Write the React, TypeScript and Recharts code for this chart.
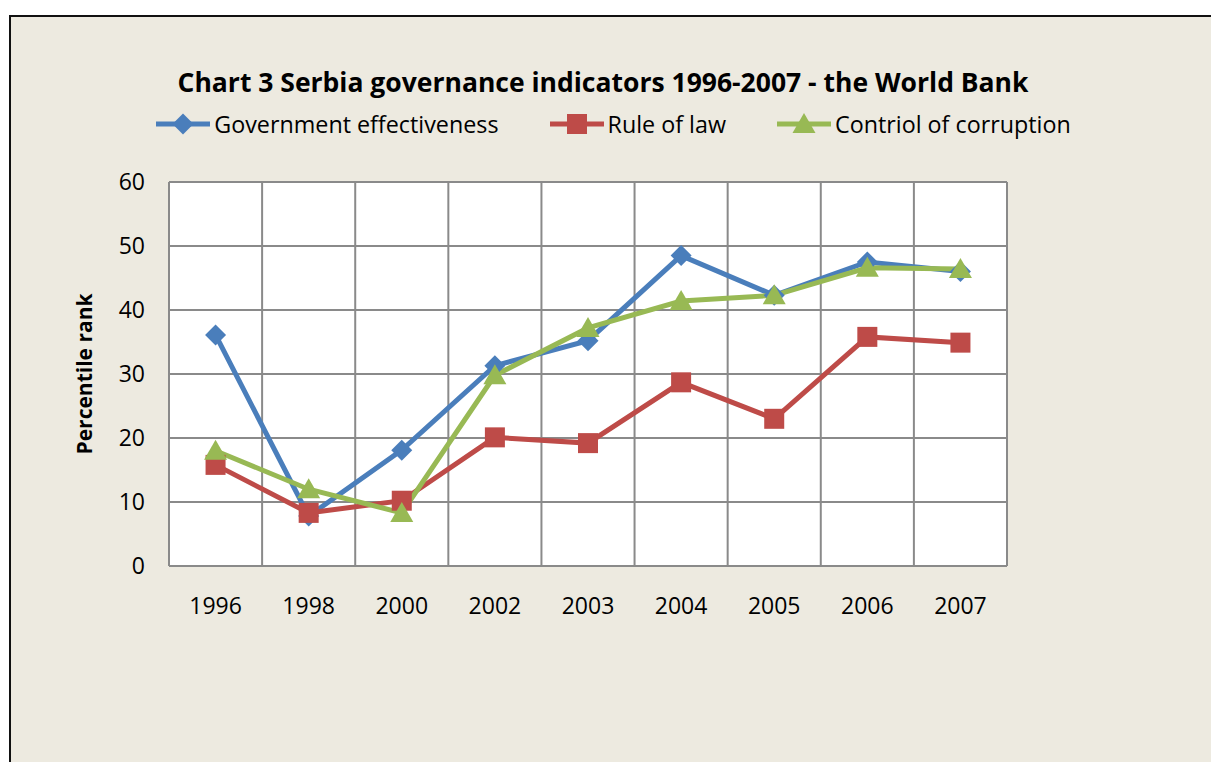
import React from "react";
import { CartesianGrid, Line, LineChart, XAxis, YAxis } from "recharts";

const YEARS = ["1996", "1998", "2000", "2002", "2003", "2004", "2005", "2006", "2007"];
const GOV_EFFECTIVENESS = [36.1, 7.8, 18.1, 31.3, 35.2, 48.5, 42.3, 47.5, 46.0];
const RULE_OF_LAW = [15.8, 8.3, 10.2, 20.1, 19.2, 28.7, 23.0, 35.8, 34.9];
const CONTROL_OF_CORRUPTION = [18.0, 12.0, 8.3, 29.8, 37.2, 41.4, 42.3, 46.6, 46.4];
const Y_TICKS = [0, 10, 20, 30, 40, 50, 60];

const SERIES = [
  { key: "gov", name: "Government effectiveness", color: "#4A7EBB", shape: "diamond" },
  { key: "law", name: "Rule of law", color: "#BE4B48", shape: "square" },
  { key: "cor", name: "Contriol of corruption", color: "#98B954", shape: "triangle" },
];

const data = YEARS.map((year, i) => ({
  year,
  gov: GOV_EFFECTIVENESS[i],
  law: RULE_OF_LAW[i],
  cor: CONTROL_OF_CORRUPTION[i],
}));

const FONT = "'Open Sans', 'Noto Sans', sans-serif";
const BG = "#EDEAE0";

function Marker({ shape, color, cx, cy }: { shape: string; color: string; cx: number; cy: number }) {
  if (shape === "diamond") {
    const r = 10.5;
    return <path d={`M${cx},${cy - r}L${cx + r},${cy}L${cx},${cy + r}L${cx - r},${cy}Z`} fill={color} />;
  }
  if (shape === "square") {
    const s = 10;
    return <rect x={cx - s} y={cy - s} width={s * 2} height={s * 2} fill={color} />;
  }
  const h = 10;
  return <path d={`M${cx},${cy - h - 1}L${cx + 11.5},${cy + h - 1}L${cx - 11.5},${cy + h - 1}Z`} fill={color} />;
}

// legend drawn as plain html so it does not push the plot area down
function ChartLegend() {
  return (
    <div
      style={{
        position: "absolute",
        left: 0,
        width: 1226,
        top: 108,
        display: "flex",
        justifyContent: "center",
        gap: 50,
        fontFamily: FONT,
        fontSize: 23.3,
        color: "#000",
        whiteSpace: "nowrap",
      }}
    >
      {SERIES.map((s) => (
        <div key={s.key} style={{ display: "flex", alignItems: "center", gap: 3 }}>
          <svg width={56} height={26}>
            <line x1={1} y1={13} x2={55} y2={13} stroke={s.color} strokeWidth={5} />
            <Marker shape={s.shape} color={s.color} cx={28} cy={13} />
          </svg>
          <span>{s.name}</span>
        </div>
      ))}
    </div>
  );
}

export default function App() {
  return (
    <div style={{ position: "absolute", left: 0, top: 0, width: 1211, height: 762, overflow: "hidden", background: "#fff" }}>
      <div
        style={{
          position: "absolute",
          left: 9,
          top: 15,
          width: 1250,
          height: 800,
          background: BG,
          borderTop: "2px solid #111",
          borderLeft: "2px solid #111",
        }}
      />
      <div
        style={{
          position: "absolute",
          left: 0,
          width: 1206,
          top: 64,
          textAlign: "center",
          fontFamily: FONT,
          fontWeight: 700,
          fontSize: 26.5,
          lineHeight: "36px",
          color: "#000",
          whiteSpace: "nowrap",
        }}
      >
        Chart 3 Serbia governance indicators 1996-2007 - the World Bank
      </div>
      <ChartLegend />
      <div style={{ position: "absolute", left: 0, top: 0 }}>
        <LineChart width={1211} height={762} data={data} margin={{ top: 182, right: 204, bottom: 166, left: 89 }}>
          <CartesianGrid
            fill="#fff"
            stroke="#8A8A8A"
            strokeWidth={2}
            verticalCoordinatesGenerator={({ offset }: any) =>
              YEARS.map((_, i) => offset.left + (i * offset.width) / YEARS.length).concat(offset.left + offset.width)
            }
          />
          <XAxis
            dataKey="year"
            scale="band"
            axisLine={false}
            tickLine={false}
            tickSize={0}
            tickMargin={32}
            height={30}
            tick={{ fontSize: 23, fill: "#000", fontFamily: FONT }}
          />
          <YAxis
            domain={[0, 60]}
            ticks={Y_TICKS}
            interval={0}
            axisLine={false}
            tickLine={false}
            tickSize={0}
            tickMargin={24}
            width={80}
            tick={{ fontSize: 23, fill: "#000", fontFamily: FONT }}
            label={{
              value: "Percentile rank",
              angle: -90,
              position: "insideLeft",
              offset: -4,
              style: { fontSize: 21, fontWeight: 700, fill: "#000", fontFamily: FONT, textAnchor: "middle" },
            }}
          />
          {SERIES.map((s) => (
            <Line
              key={s.key}
              type="linear"
              dataKey={s.key}
              name={s.name}
              stroke={s.color}
              strokeWidth={5}
              isAnimationActive={false}
              dot={(p: any) => <Marker key={`${s.key}-${p.index}`} shape={s.shape} color={s.color} cx={p.cx} cy={p.cy} />}
              activeDot={false}
            />
          ))}
        </LineChart>
      </div>
    </div>
  );
}
